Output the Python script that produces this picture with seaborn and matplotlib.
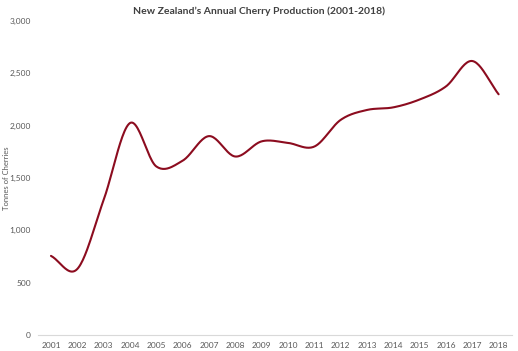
import matplotlib
matplotlib.use("Agg")
import matplotlib.pyplot as plt
import numpy as np
import pandas as pd
import seaborn as sns

# data
years = list(range(2001, 2019))
tonnes = [755, 630, 1290, 2025, 1610, 1665, 1900, 1705, 1850, 1835, 1800,
          2055, 2150, 2175, 2250, 2375, 2618, 2300]
yticks = [0, 500, 1000, 1500, 2000, 2500, 3000]


def smooth(x, y, n=24):
    # Catmull-Rom curve through the points, like the office "smoothed line"
    x = np.asarray(x, float)
    y = np.asarray(y, float)
    px = np.concatenate([[2 * x[0] - x[1]], x, [2 * x[-1] - x[-2]]])
    py = np.concatenate([[2 * y[0] - y[1]], y, [2 * y[-1] - y[-2]]])
    t = np.linspace(0, 1, n, endpoint=False)
    xs, ys = [], []
    for i in range(1, len(px) - 2):
        for p, out in ((px, xs), (py, ys)):
            p0, p1, p2, p3 = p[i - 1], p[i], p[i + 1], p[i + 2]
            out.extend(0.5 * (2 * p1 + (-p0 + p2) * t
                              + (2 * p0 - 5 * p1 + 4 * p2 - p3) * t ** 2
                              + (-p0 + 3 * p1 - 3 * p2 + p3) * t ** 3))
    xs.append(x[-1])
    ys.append(y[-1])
    return np.array(xs), np.array(ys)


idx = np.arange(len(years))
sx, sy = smooth(idx, tonnes)
df = pd.DataFrame({"pos": sx, "tonnes": sy})

sns.set_style("white")
plt.rcParams["font.family"] = ["Lato", "DejaVu Sans"]

fig = plt.figure(figsize=(5.18, 3.51), dpi=100)
ax = fig.add_axes([0.073, 0.046, 0.915, 0.894])
sns.lineplot(data=df, x="pos", y="tonnes", ax=ax, color="#8c0c1f",
             linewidth=1.5, sort=False)

ax.set_xlim(-0.5, len(years) - 0.5)
ax.set_ylim(0, 3000)
ax.set_xticks(idx)
ax.set_xticklabels([str(y) for y in years])
ax.set_yticks(yticks)
ax.set_yticklabels([f"{v:,}" for v in yticks])
ax.tick_params(axis="both", labelsize=6, colors="#595959", length=0, pad=5)
ax.set_xlabel("")
ax.set_ylabel("Tonnes of Cherries", fontsize=5.5, color="#595959")
ax.yaxis.set_label_coords(-0.058, 0.5)

for s in ["top", "right", "left"]:
    ax.spines[s].set_visible(False)
ax.spines["bottom"].set_color("#d9d9d9")
ax.spines["bottom"].set_linewidth(0.8)

fig.text(0.5, 0.955, "New Zealand\u2019s Annual Cherry Production (2001-2018)",
         ha="center", va="bottom", fontsize=7.5, fontweight="bold",
         color="#404040")

fig.savefig("out.png", dpi=100)
